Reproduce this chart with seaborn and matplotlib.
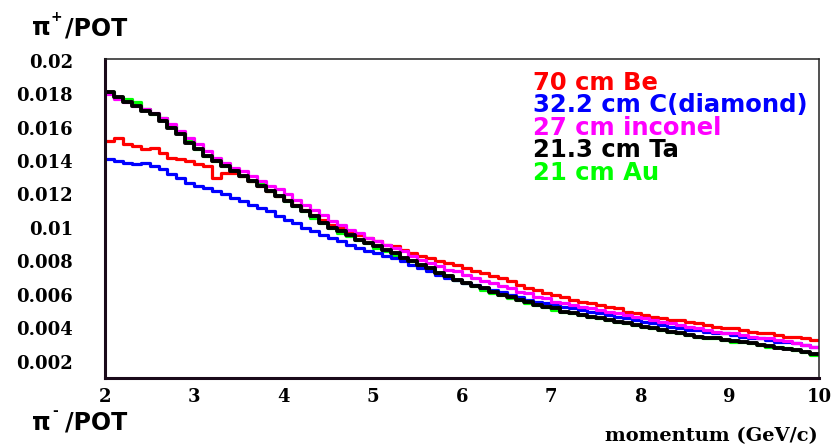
import numpy as np
import pandas as pd
import matplotlib
matplotlib.use("Agg")
import matplotlib.pyplot as plt
from matplotlib.lines import Line2D
from matplotlib.ticker import MultipleLocator, FixedLocator
import seaborn as sns

# ---------------- data (pi+/POT per 0.1 GeV/c momentum bin, 2-10 GeV/c) ----------------
bin_edges = [round(2.0 + 0.1 * i, 2) for i in range(81)]
momentum = [round(e + 0.05, 3) for e in bin_edges[:-1]]

targets = ["70 cm Be", "32.2 cm C(diamond)", "27 cm inconel", "21.3 cm Ta", "21 cm Au"]
colors = ["#ff0000", "#0000ff", "#ff00ff", "#000000", "#00ff00"]

be_70cm = [
    0.0152, 0.0154, 0.0150, 0.0149, 0.0147, 0.0148, 0.0145, 0.0142, 0.0141, 0.0140,
    0.0138, 0.0137, 0.0130, 0.0133, 0.0133, 0.0131, 0.0128, 0.0125, 0.0122, 0.0119,
    0.0117, 0.0114, 0.0111, 0.0108, 0.0105, 0.0102, 0.0100, 0.0098, 0.0096, 0.0094,
    0.0092, 0.0090, 0.0089, 0.0087, 0.0085, 0.0083, 0.0082, 0.0080, 0.0079, 0.0078,
    0.0076, 0.0074, 0.0073, 0.0071, 0.0070, 0.0068, 0.0066, 0.0064, 0.0063, 0.0061,
    0.0060, 0.0059, 0.0057, 0.0056, 0.0055, 0.0054, 0.0053, 0.0052, 0.0050, 0.0049,
    0.0048, 0.0047, 0.0046, 0.0045, 0.0045, 0.0044, 0.0043, 0.0042, 0.0041, 0.0040,
    0.0040, 0.0039, 0.0038, 0.0037, 0.0037, 0.0036, 0.0035, 0.0035, 0.0034, 0.0033,
]
c_diamond = [
    0.0141, 0.0140, 0.0139, 0.0138, 0.0139, 0.0137, 0.0135, 0.0132, 0.0130, 0.0127,
    0.0125, 0.0124, 0.0122, 0.0120, 0.0118, 0.0116, 0.0114, 0.0112, 0.0110, 0.0107,
    0.0105, 0.0103, 0.0100, 0.0098, 0.0096, 0.0094, 0.0092, 0.0090, 0.0088, 0.0086,
    0.0085, 0.0083, 0.0082, 0.0080, 0.0078, 0.0076, 0.0074, 0.0072, 0.0070, 0.0069,
    0.0067, 0.0066, 0.0064, 0.0063, 0.0062, 0.0060, 0.0059, 0.0057, 0.0056, 0.0055,
    0.0054, 0.0053, 0.0052, 0.0051, 0.0050, 0.0049, 0.0048, 0.0047, 0.0046, 0.0045,
    0.0044, 0.0043, 0.0042, 0.0041, 0.0040, 0.0039, 0.0039, 0.0038, 0.0037, 0.0037,
    0.0036, 0.0035, 0.0034, 0.0034, 0.0033, 0.0032, 0.0032, 0.0031, 0.0030, 0.0029,
]
inconel_27cm = [
    0.0180, 0.0177, 0.0175, 0.0173, 0.0171, 0.0169, 0.0166, 0.0162, 0.0158, 0.0154,
    0.0150, 0.0146, 0.0142, 0.0139, 0.0136, 0.0134, 0.0131, 0.0128, 0.0125, 0.0123,
    0.0120, 0.0117, 0.0114, 0.0111, 0.0108, 0.0104, 0.0102, 0.0099, 0.0097, 0.0094,
    0.0092, 0.0090, 0.0088, 0.0086, 0.0083, 0.0081, 0.0079, 0.0077, 0.0075, 0.0074,
    0.0072, 0.0070, 0.0068, 0.0067, 0.0065, 0.0064, 0.0062, 0.0061, 0.0059, 0.0058,
    0.0056, 0.0055, 0.0054, 0.0053, 0.0052, 0.0051, 0.0050, 0.0049, 0.0048, 0.0047,
    0.0046, 0.0045, 0.0044, 0.0043, 0.0042, 0.0041, 0.0040, 0.0039, 0.0038, 0.00375,
    0.0037, 0.0036, 0.0035, 0.00345, 0.0034, 0.0033, 0.00322, 0.00312, 0.00302, 0.0029,
]
ta_21cm = [
    0.0181, 0.0178, 0.0175, 0.0173, 0.0170, 0.0168, 0.0164, 0.0160, 0.0156, 0.0151,
    0.0147, 0.0143, 0.0140, 0.0137, 0.0134, 0.0131, 0.0128, 0.0125, 0.0122, 0.0119,
    0.0116, 0.0113, 0.0110, 0.0107, 0.0103, 0.0100, 0.0098, 0.0096, 0.0093, 0.0091,
    0.0089, 0.0087, 0.0085, 0.0082, 0.0080, 0.0078, 0.0076, 0.0073, 0.0071, 0.0069,
    0.0067, 0.0065, 0.0064, 0.0062, 0.0060, 0.0059, 0.0057, 0.0056, 0.0054, 0.0053,
    0.0052, 0.0050, 0.0049, 0.0048, 0.0047, 0.0046, 0.0045, 0.0044, 0.0043, 0.0042,
    0.0041, 0.0040, 0.0039, 0.0038, 0.0037, 0.0036, 0.0035, 0.00345, 0.0034, 0.0033,
    0.00325, 0.0032, 0.0031, 0.0030, 0.00293, 0.00285, 0.00278, 0.0027, 0.0026, 0.00245,
]
au_21cm = [
    0.0181, 0.0178, 0.0177, 0.0175, 0.0171, 0.0168, 0.0166, 0.0161, 0.0157, 0.0152,
    0.0147, 0.0143, 0.0140, 0.0137, 0.0134, 0.0131, 0.0128, 0.0126, 0.0122, 0.0119,
    0.0116, 0.0113, 0.0110, 0.0106, 0.0103, 0.0100, 0.0097, 0.0095, 0.0093, 0.0091,
    0.0088, 0.0086, 0.0084, 0.0082, 0.0080, 0.0077, 0.0075, 0.0073, 0.0071, 0.0069,
    0.0067, 0.0065, 0.0063, 0.0061, 0.0060, 0.0058, 0.0057, 0.0055, 0.0054, 0.0053,
    0.0051, 0.0050, 0.0049, 0.0048, 0.0047, 0.0046, 0.0045, 0.0044, 0.0043, 0.0042,
    0.0041, 0.0040, 0.0039, 0.0038, 0.0037, 0.0036, 0.0035, 0.0034, 0.0034, 0.0033,
    0.0032, 0.0032, 0.0031, 0.0030, 0.0029, 0.0029, 0.0028, 0.0027, 0.0026, 0.0024,
]
series = [be_70cm, c_diamond, inconel_27cm, ta_21cm, au_21cm]

x_ticks = [2, 3, 4, 5, 6, 7, 8, 9, 10]
y_ticks = [0.002, 0.004, 0.006, 0.008, 0.01, 0.012, 0.014, 0.016, 0.018, 0.02]
y_tick_labels = ["0.002", "0.004", "0.006", "0.008", "0.01", "0.012", "0.014", "0.016", "0.018", "0.02"]

df = pd.concat(
    [pd.DataFrame({"momentum": momentum, "pi_per_pot": vals, "target": name})
     for name, vals in zip(targets, series)],
    ignore_index=True,
)

# ---------------- figure ----------------
sns.set_style("white")
plt.rcParams["font.family"] = ["DejaVu Sans"]

fig = plt.figure(figsize=(8.33, 4.46), dpi=100)
ax = fig.add_axes([105 / 833, 1 - 378 / 446, (819 - 105) / 833, (378 - 59) / 446])

draw_order = ["21 cm Au", "70 cm Be", "32.2 cm C(diamond)", "27 cm inconel", "21.3 cm Ta"]
cmap = dict(zip(targets, colors))
for name in draw_order:
    sub = df[df["target"] == name]
    sns.histplot(data=sub, x="momentum", weights="pi_per_pot", bins=bin_edges,
                 element="step", fill=False, color=cmap[name],
                 linewidth=2.8 if name == "21.3 cm Ta" else 2.3, ax=ax)

ax.set_xlim(2, 10)
ax.set_ylim(0.00103, 0.0201)
ax.set_xlabel("")
ax.set_ylabel("")

ax.xaxis.set_major_locator(FixedLocator(x_ticks))
ax.xaxis.set_minor_locator(MultipleLocator(0.2))
ax.yaxis.set_major_locator(FixedLocator(y_ticks))
ax.yaxis.set_minor_locator(MultipleLocator(0.0005))
ax.set_xticklabels([str(v) for v in x_ticks])
ax.set_yticklabels(y_tick_labels)

for lab in ax.get_xticklabels() + ax.get_yticklabels():
    lab.set_fontfamily("DejaVu Serif")
    lab.set_fontweight("bold")
    lab.set_fontsize(13)
    lab.set_color("black")

ax.tick_params(axis="x", which="major", direction="in", length=11, width=1.2,
               pad=7, color="black", top=False)
ax.tick_params(axis="x", which="minor", direction="in", length=5, width=1.0,
               color="black", top=False)
ax.tick_params(axis="y", which="major", direction="in", length=9, width=1.2,
               pad=23, color="black", right=False)
ax.tick_params(axis="y", which="minor", direction="in", length=4.5, width=1.0,
               color="black", right=False)

for side in ["left", "bottom"]:
    ax.spines[side].set_color("#1a0a1a")
    ax.spines[side].set_linewidth(2.2)
for side in ["top", "right"]:
    ax.spines[side].set_color("#222222")
    ax.spines[side].set_linewidth(1.1)
    ax.spines[side].set_visible(True)

# legend: coloured text only
handles = [Line2D([], [], color=c) for c in colors]
leg = fig.legend(handles=handles, labels=targets, labelcolor=colors,
                 loc="upper left", bbox_to_anchor=(533 / 833, 1 - 70.5 / 446),
                 bbox_transform=fig.transFigure, frameon=False,
                 handlelength=0, handletextpad=0, borderpad=0, borderaxespad=0,
                 labelspacing=-0.06,
                 prop=dict(family="DejaVu Sans", weight="bold", size=17.5))
for h in leg.legend_handles:
    h.set_visible(False)

# axis titles
bold_sans = dict(family="DejaVu Sans", weight="bold", color="black")
fig.text(32 / 833, 1 - 35 / 446, "π", fontsize=17, va="baseline", ha="left", **bold_sans)
fig.text(51 / 833, 1 - 21 / 446, "+", fontsize=10, va="baseline", ha="left", **bold_sans)
fig.text(65 / 833, 1 - 35 / 446, "/POT", fontsize=17, va="baseline", ha="left", **bold_sans)

fig.text(32 / 833, 1 - 430 / 446, "π", fontsize=17, va="baseline", ha="left", **bold_sans)
fig.text(52 / 833, 1 - 415 / 446, "-", fontsize=10, va="baseline", ha="left", **bold_sans)
fig.text(65 / 833, 1 - 430 / 446, "/POT", fontsize=17, va="baseline", ha="left", **bold_sans)

fig.text(818 / 833, 1 - 441 / 446, "momentum (GeV/c)", fontsize=14, va="baseline", ha="right",
         family="DejaVu Serif", weight="bold", color="black")

fig.savefig("out.png", dpi=100, facecolor="white")
